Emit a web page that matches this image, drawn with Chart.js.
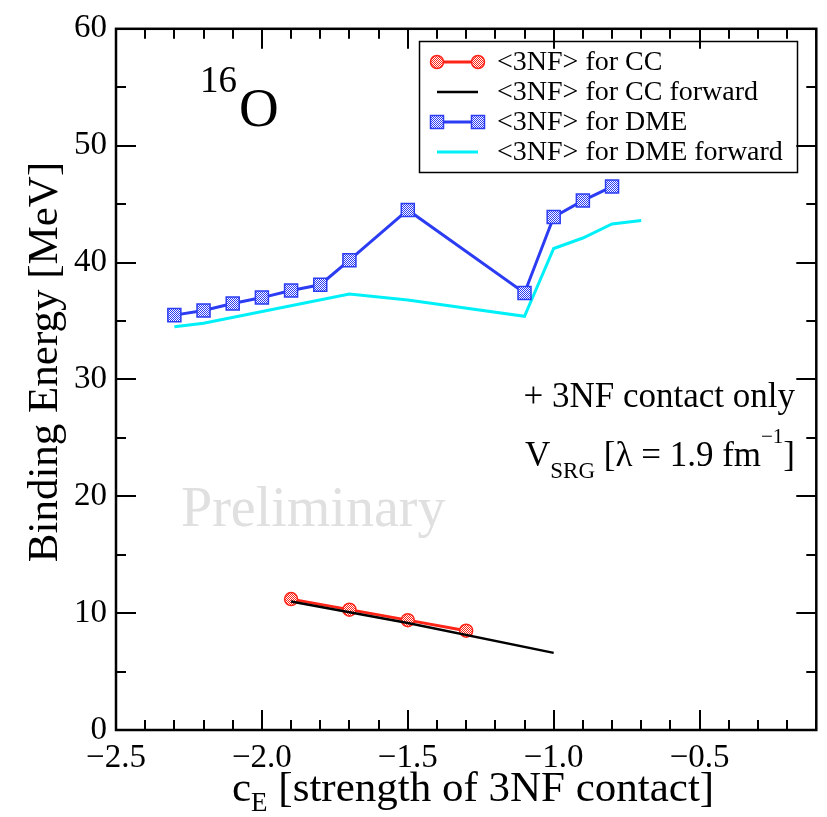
<!DOCTYPE html>
<html>
<head>
<meta charset="utf-8">
<script src="https://cdn.jsdelivr.net/npm/chart.js@4.4.0/dist/chart.umd.min.js"></script>
<style>
  html, body { margin: 0; padding: 0; background: #fff; }
</style>
</head>
<body>
<canvas id="chart" width="827" height="817"></canvas>
<script>
// Values
const xTicks = [-2.5, -2.0, -1.5, -1.0, -0.5];
const yTicks = [0, 10, 20, 30, 40, 50, 60];

const ccX = [-1.9, -1.7, -1.5, -1.3];
const ccY = [11.2, 10.3, 9.4, 8.5];

const ccFwdX = [-1.9, -1.5, -1.0];
const ccFwdY = [11.0, 9.15, 6.6];

const dmeX = [-2.3, -2.2, -2.1, -2.0, -1.9, -1.8, -1.7, -1.5, -1.1, -1.0, -0.9, -0.8];
const dmeY = [35.5, 35.9, 36.5, 37.0, 37.6, 38.1, 40.2, 44.5, 37.4, 43.9, 45.3, 46.5];

const dmeFwdX = [-2.3, -2.2, -1.7, -1.5, -1.1, -1.0, -0.9, -0.8, -0.7];
const dmeFwdY = [34.5, 34.8, 37.3, 36.8, 35.4, 41.2, 42.1, 43.3, 43.6];

const legendLabels = ['<3NF> for CC', '<3NF> for CC forward', '<3NF> for DME', '<3NF> for DME forward'];

const SERIF = '"Liberation Serif", "DejaVu Serif", serif';
const RED = '#ff2418';
const BLUE = '#2b3cf2';
const CYAN = '#00f0f8';

const canvas = document.getElementById('chart');
const ctx = canvas.getContext('2d');

// small checkered fill like the xmgrace markers
function checker(color) {
    const c = document.createElement('canvas');
    c.width = 2; c.height = 2;
    const g = c.getContext('2d');
    g.fillStyle = '#ffffff';
    g.fillRect(0, 0, 2, 2);
    g.fillStyle = color;
    g.fillRect(0, 0, 1, 1);
    g.fillRect(1, 1, 1, 1);
    return ctx.createPattern(c, 'repeat');
}
const redFill = checker(RED);
const blueFill = checker(BLUE);

const pts = (xs, ys) => xs.map((x, i) => ({ x: x, y: ys[i] }));

// draw a run of text pieces (for sub/superscripts)
function drawRuns(c, x, y, runs) {
    c.textAlign = 'left';
    c.textBaseline = 'alphabetic';
    runs.forEach(r => {
        c.font = r.size + 'px ' + SERIF;
        c.fillText(r.t, x, y + (r.dy || 0));
        x += c.measureText(r.t).width;
    });
}

const decor = {
    id: 'decor',
    beforeDatasetsDraw(chart) {
        const c = chart.ctx;
        c.save();
        c.fillStyle = '#e0e0e0';
        c.font = '56px ' + SERIF;
        c.textBaseline = 'alphabetic';
        c.fillText('Preliminary', 181, 526);
        c.restore();
    },
    afterDraw(chart) {
        const c = chart.ctx;
        const a = chart.chartArea;
        const xs = chart.scales.x;
        const ys = chart.scales.y;
        c.save();
        c.strokeStyle = '#000';
        c.fillStyle = '#000';

        // frame
        c.lineWidth = 2.5;
        c.strokeRect(a.left, a.top, a.right - a.left, a.bottom - a.top);

        // inward ticks on all four sides
        c.lineWidth = 2;
        c.beginPath();
        for (let i = 0; i <= 24; i++) {
            const v = -2.5 + i * 0.1;
            const px = Math.round(xs.getPixelForValue(v));
            const len = i % 5 === 0 ? 20 : 10;
            c.moveTo(px, a.bottom); c.lineTo(px, a.bottom - len);
            c.moveTo(px, a.top); c.lineTo(px, a.top + len);
        }
        for (let i = 0; i <= 12; i++) {
            const v = i * 5;
            const py = Math.round(ys.getPixelForValue(v));
            const len = i % 2 === 0 ? 20 : 10;
            c.moveTo(a.left, py); c.lineTo(a.left + len, py);
            c.moveTo(a.right, py); c.lineTo(a.right - len, py);
        }
        c.stroke();

        // nucleus label
        drawRuns(c, 200, 92, [{ t: '16', size: 37 }]);
        drawRuns(c, 239, 126, [{ t: 'O', size: 55 }]);

        // annotations
        c.font = '35px ' + SERIF;
        c.textAlign = 'right';
        c.fillText('+ 3NF contact only', 795, 407);
        drawRuns(c, 525, 466, [
            { t: 'V', size: 35 },
            { t: 'SRG', size: 23, dy: 12 },
            { t: ' [\u03bb = 1.9 fm', size: 35 },
            { t: '\u22121', size: 21, dy: -23 },
            { t: ']', size: 35 }
        ]);

        // legend
        c.lineWidth = 1.5;
        c.strokeRect(419.5, 41.5, 378, 131);
        const rows = [62, 92, 122, 152];
        const styles = [
            { color: RED, width: 3, marker: 'circle' },
            { color: '#000', width: 2.5 },
            { color: BLUE, width: 3, marker: 'rect' },
            { color: CYAN, width: 3 }
        ];
        rows.forEach((ry, i) => {
            const s = styles[i];
            c.strokeStyle = s.color;
            c.lineWidth = s.width;
            c.beginPath();
            c.moveTo(437, ry); c.lineTo(478, ry);
            c.stroke();
            if (s.marker) {
                [437, 478].forEach(mx => {
                    c.beginPath();
                    if (s.marker === 'circle') {
                        c.arc(mx, ry, 6.5, 0, Math.PI * 2);
                        c.fillStyle = redFill;
                    } else {
                        c.rect(mx - 6.5, ry - 6.5, 13, 13);
                        c.fillStyle = blueFill;
                    }
                    c.fill();
                    c.lineWidth = 1.5;
                    c.stroke();
                });
            }
            c.fillStyle = '#000';
            c.font = '28px ' + SERIF;
            c.textAlign = 'left';
            c.textBaseline = 'middle';
            c.fillText(legendLabels[i], 497, ry + 1);
        });

        // axis titles
        c.textBaseline = 'alphabetic';
        c.save();
        c.translate(57, 362);
        c.rotate(-Math.PI / 2);
        c.font = '43px ' + SERIF;
        c.textAlign = 'center';
        c.fillText('Binding Energy [MeV]', 0, 0);
        c.restore();
        drawRuns(c, 232, 801, [
            { t: 'c', size: 43 },
            { t: 'E', size: 27, dy: 10 },
            { t: ' [strength of 3NF contact]', size: 43 }
        ]);
        c.restore();
    }
};

new Chart(ctx, {
    type: 'line',
    data: {
        datasets: [
            {
                label: legendLabels[0],
                data: pts(ccX, ccY),
                borderColor: RED,
                borderWidth: 3,
                pointStyle: 'circle',
                pointRadius: 6.5,
                pointBackgroundColor: redFill,
                pointBorderColor: RED,
                pointBorderWidth: 1.5,
                order: 2
            },
            {
                label: legendLabels[1],
                data: pts(ccFwdX, ccFwdY),
                borderColor: '#000',
                borderWidth: 2.5,
                pointRadius: 0,
                order: 1
            },
            {
                label: legendLabels[2],
                data: pts(dmeX, dmeY),
                borderColor: BLUE,
                borderWidth: 3,
                pointStyle: 'rect',
                pointRadius: 9.2,
                pointBackgroundColor: blueFill,
                pointBorderColor: BLUE,
                pointBorderWidth: 1.5,
                order: 3
            },
            {
                label: legendLabels[3],
                data: pts(dmeFwdX, dmeFwdY),
                borderColor: CYAN,
                borderWidth: 3,
                pointRadius: 0,
                order: 4
            }
        ]
    },
    options: {
        responsive: false,
        animation: false,
        devicePixelRatio: 1,
        layout: { padding: { top: 22, right: 4, left: 0, bottom: 0 } },
        plugins: { legend: { display: false }, tooltip: { enabled: false } },
        elements: { line: { tension: 0 } },
        scales: {
            x: {
                type: 'linear',
                min: -2.5,
                max: -0.1,
                afterBuildTicks: s => { s.ticks = xTicks.map(v => ({ value: v })); },
                afterFit: s => { s.height = 87; },
                grid: { display: true, drawOnChartArea: false, drawTicks: false },
                border: { display: false },
                ticks: {
                    autoSkip: false,
                    maxRotation: 0,
                    padding: 9,
                    color: '#000',
                    font: { family: SERIF, size: 33 },
                    callback: v => '\u2212' + Math.abs(v).toFixed(1)
                }
            },
            y: {
                min: 0,
                max: 60,
                afterBuildTicks: s => { s.ticks = yTicks.map(v => ({ value: v })); },
                afterFit: s => { s.width = 116; },
                grid: { display: true, drawOnChartArea: false, drawTicks: false },
                border: { display: false },
                ticks: {
                    padding: 9,
                    color: '#000',
                    font: { family: SERIF, size: 33 }
                }
            }
        }
    },
    plugins: [decor]
});
</script>
</body>
</html>
